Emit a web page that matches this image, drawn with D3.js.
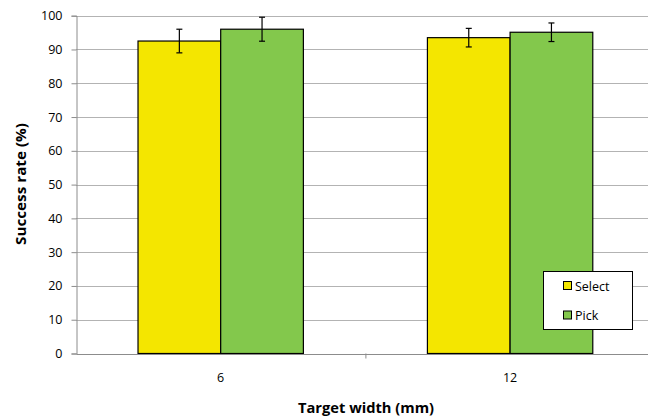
<!DOCTYPE html>
<html><head><meta charset="utf-8">
<script src="https://cdn.jsdelivr.net/npm/d3@7"></script>
<style>body{margin:0;background:#fff}svg{display:block}text{font-family:"Open Sans",Lato,sans-serif}</style>
</head><body>
<svg id="c" width="648" height="416"></svg>
<script>
const categories = ["6", "12"];
const seriesNames = ["Select", "Pick"];
const selectValues = [92.5, 93.5];
const pickValues = [96.0, 95.1];
const selectErrors = [3.5, 2.75];
const pickErrors = [3.55, 2.75];
const yTicks = [0, 10, 20, 30, 40, 50, 60, 70, 80, 90, 100];
const colors = ["#F4E600", "#83C84C"];

const svg = d3.select("#c");
const plotLeft = 76, plotTop = 15.7, plotBottom = 353.5, step = 289.4;
const x0 = d3.scaleBand().domain(categories).range([plotLeft, plotLeft + step * categories.length]).padding(0);
const x1 = d3.scaleBand().domain(seriesNames).range([0, x0.bandwidth()]).paddingInner(0).paddingOuter(0.75);
const y = d3.scaleLinear().domain([0, 100]).range([plotBottom, plotTop]);

// gridlines
svg.append("g").selectAll("line").data(yTicks.filter(d => d > 0)).join("line")
  .attr("x1", plotLeft).attr("x2", 648).attr("y1", d => Math.round(y(d)) + 0.5).attr("y2", d => Math.round(y(d)) + 0.5)
  .attr("stroke", "#b3b3b3").attr("stroke-width", 1);

// y axis
const yAxis = svg.append("g").attr("transform", `translate(${plotLeft + 0.5},0)`)
  .call(d3.axisLeft(y).tickValues(yTicks).tickSize(5).tickPadding(9));
yAxis.select(".domain").attr("stroke", "#8c8c8c");
yAxis.selectAll(".tick line").attr("stroke", "#8c8c8c");
yAxis.selectAll("text").attr("font-size", 12.5).attr("fill", "#000").attr("font-family", "Open Sans");

const data = categories.map((c, i) => ({
  cat: c,
  vals: [
    {s: seriesNames[0], v: selectValues[i], e: selectErrors[i], col: colors[0]},
    {s: seriesNames[1], v: pickValues[i], e: pickErrors[i], col: colors[1]}
  ]
}));

const groups = svg.append("g").selectAll("g").data(data).join("g")
  .attr("transform", d => `translate(${x0(d.cat)},0)`);
groups.selectAll("rect").data(d => d.vals).join("rect")
  .attr("x", d => x1(d.s)).attr("width", x1.bandwidth())
  .attr("y", d => y(d.v)).attr("height", d => y(0) - y(d.v))
  .attr("fill", d => d.col).attr("stroke", "#000").attr("stroke-width", 1.2);

// x axis
const xAxis = svg.append("g").attr("transform", `translate(0,${plotBottom + 0.5})`)
  .call(d3.axisBottom(x0).tickSize(0).tickPadding(19));
xAxis.select(".domain").attr("stroke", "#8c8c8c");
xAxis.selectAll("text").attr("font-size", 12.5).attr("fill", "#000").attr("font-family", "Open Sans");
// boundary ticks
svg.append("g").selectAll("line").data(categories.slice(1)).join("line")
  .attr("x1", d => x0(d) + 0.5).attr("x2", d => x0(d) + 0.5)
  .attr("y1", plotBottom).attr("y2", plotBottom + 5).attr("stroke", "#8c8c8c");

// error bars
const eb = groups.selectAll("g.err").data(d => d.vals).join("g").attr("class", "err");
const cx = d => x1(d.s) + x1.bandwidth() / 2;
eb.append("line").attr("x1", cx).attr("x2", cx)
  .attr("y1", d => y(d.v + d.e)).attr("y2", d => y(d.v - d.e)).attr("stroke", "#000").attr("stroke-width", 1.2);
eb.append("line").attr("x1", d => cx(d) - 3).attr("x2", d => cx(d) + 3)
  .attr("y1", d => y(d.v + d.e)).attr("y2", d => y(d.v + d.e)).attr("stroke", "#000").attr("stroke-width", 1.2);
eb.append("line").attr("x1", d => cx(d) - 3).attr("x2", d => cx(d) + 3)
  .attr("y1", d => y(d.v - d.e)).attr("y2", d => y(d.v - d.e)).attr("stroke", "#000").attr("stroke-width", 1.2);

// axis titles
svg.append("text").attr("x", 366).attr("y", 413).attr("text-anchor", "middle")
  .attr("font-size", 14.5).attr("font-weight", "bold")
  .attr("textLength", 136).attr("lengthAdjust", "spacingAndGlyphs").text("Target width (mm)");
svg.append("text").attr("transform", "translate(26,184) rotate(-90)").attr("text-anchor", "middle")
  .attr("font-size", 14.5).attr("font-weight", "bold")
  .attr("textLength", 122).attr("lengthAdjust", "spacingAndGlyphs").text("Success rate (%)");

// legend
const lg = svg.append("g");
lg.append("rect").attr("x", 543.5).attr("y", 271.5).attr("width", 89).attr("height", 58)
  .attr("fill", "#fff").attr("stroke", "#000").attr("stroke-width", 1);
const li = lg.selectAll("g").data(seriesNames).join("g")
  .attr("transform", (d, i) => `translate(563,${286 + i * 29.5})`);
li.append("rect").attr("x", 0.5).attr("y", -4.5).attr("width", 8).attr("height", 8)
  .attr("fill", (d, i) => colors[i]).attr("stroke", "#000").attr("stroke-width", 1);
li.append("text").attr("x", 12).attr("y", 4.5).attr("font-size", 12.5).text(d => d);
</script>
</body></html>
